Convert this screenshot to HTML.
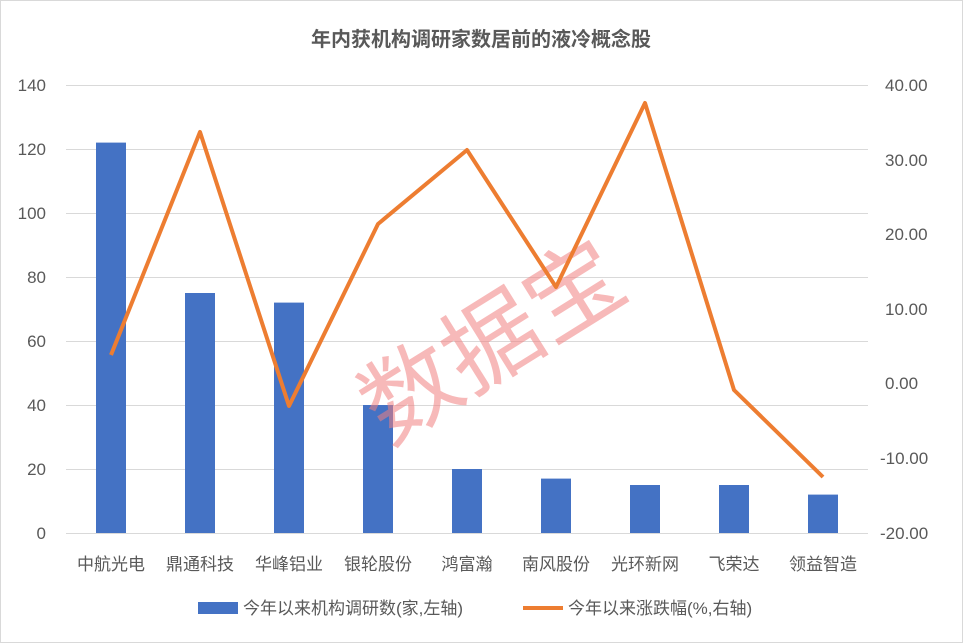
<!DOCTYPE html>
<html><head><meta charset="utf-8"><style>
html,body{margin:0;padding:0;background:#fff;}
svg{display:block;font-family:"Liberation Sans","Noto Sans CJK SC",sans-serif;}
</style></head><body>
<svg width="963" height="643" viewBox="0 0 963 643" xmlns="http://www.w3.org/2000/svg">
<rect x="0.5" y="0.5" width="962" height="642" fill="#fff" stroke="#d9d9d9"/>
<text x="481" y="46" text-anchor="middle" font-size="20" font-weight="bold" fill="#595959">年内获机构调研家数居前的液冷概念股</text>
<g stroke="#d9d9d9" stroke-width="1">
<line x1="66" x2="868" y1="85.5" y2="85.5"/>
<line x1="66" x2="868" y1="149.5" y2="149.5"/>
<line x1="66" x2="868" y1="213.5" y2="213.5"/>
<line x1="66" x2="868" y1="277.5" y2="277.5"/>
<line x1="66" x2="868" y1="341.5" y2="341.5"/>
<line x1="66" x2="868" y1="405.5" y2="405.5"/>
<line x1="66" x2="868" y1="469.5" y2="469.5"/>
<line x1="66" x2="868" y1="533.5" y2="533.5"/>
</g>
<g font-size="17" fill="#595959" text-anchor="end">
<text x="46" y="91">140</text><text x="46" y="155">120</text><text x="46" y="219">100</text>
<text x="46" y="283">80</text><text x="46" y="347">60</text><text x="46" y="411">40</text>
<text x="46" y="475">20</text><text x="46" y="539">0</text>
</g>
<g font-size="17" fill="#595959" text-anchor="start">
<text x="885" y="91">40.00</text><text x="885" y="166">30.00</text><text x="885" y="240">20.00</text>
<text x="885" y="315">10.00</text><text x="885" y="389">0.00</text><text x="880" y="464">-10.00</text>
<text x="880" y="539">-20.00</text>
</g>
<g fill="#4472c4">
<rect x="96" y="142.6" width="30" height="390.4"/>
<rect x="185" y="293" width="30" height="240"/>
<rect x="274" y="302.6" width="30" height="230.4"/>
<rect x="363" y="405" width="30" height="128"/>
<rect x="452" y="469" width="30" height="64"/>
<rect x="541" y="478.6" width="30" height="54.4"/>
<rect x="630" y="485" width="30" height="48"/>
<rect x="719" y="485" width="30" height="48"/>
<rect x="808" y="494.6" width="30" height="38.4"/>
</g>
<text x="510" y="370" text-anchor="middle" font-size="96" fill="#f08080" fill-opacity="0.55" transform="rotate(-32 510 370)">数据宝</text>
<polyline fill="none" stroke="#ed7d31" stroke-width="4" stroke-linejoin="round" points="111,355 200,132 289,406 378,224 467,150 556,287 645,103 734,390 823,477"/>
<g font-size="17" fill="#595959" text-anchor="middle">
<text x="111" y="570">中航光电</text><text x="200" y="570">鼎通科技</text><text x="289" y="570">华峰铝业</text>
<text x="378" y="570">银轮股份</text><text x="467" y="570">鸿富瀚</text><text x="556" y="570">南风股份</text>
<text x="645" y="570">光环新网</text><text x="734" y="570">飞荣达</text><text x="823" y="570">领益智造</text>
</g>
<rect x="198" y="602" width="40" height="12" fill="#4472c4"/>
<text x="243" y="614" font-size="17" fill="#595959">今年以来机构调研数(家,左轴)</text>
<line x1="523" x2="563" y1="608" y2="608" stroke="#ed7d31" stroke-width="4"/>
<text x="568" y="614" font-size="17" fill="#595959">今年以来涨跌幅(%,右轴)</text>
</svg>
</body></html>
